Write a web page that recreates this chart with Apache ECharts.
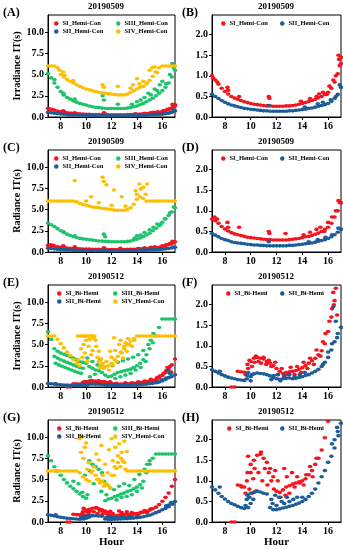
<!DOCTYPE html>
<html><head><meta charset="utf-8">
<script src="https://cdn.jsdelivr.net/npm/echarts@6/dist/echarts.min.js"></script>
<style>html,body{margin:0;padding:0;background:#fff}#c{width:343px;height:550px}</style>
</head><body><div id="c"></div>
<script>
// ---------- DATA ----------
const hours = [7,7.25,7.5,7.75,8,8.25,8.5,8.75,9,9.25,9.5,9.75,10,10.25,10.5,10.75,11,11.25,11.5,11.75,12,12.25,12.5,12.75,13,13.25,13.5,13.75,14,14.25,14.5,14.75,15,15.25,15.5,15.75,16,16.25,16.5,16.75,17];
const xTickValues = [8,10,12,14,16];

// 20190509 irradiance
const irr0509_SI = [1.0,0.9,0.8,0.7,0.62,0.56,0.5,0.46,0.43,0.4,0.37,0.35,0.33,0.31,0.3,0.29,0.28,0.27,0.27,0.26,0.26,0.26,0.26,0.27,0.27,0.28,0.29,0.31,0.33,0.35,0.38,0.4,0.43,0.47,0.5,0.55,0.6,0.7,0.85,1.05,1.3];
const irr0509_SI_exX = [7.1,7.4,8.2,8.25,9.1,11.4,11.45,13.9,14.6,15.1,15.3,15.6,15.9,16.1,16.4,16.6,16.8,16.85,16.9,17.0];
const irr0509_SI_exY = [0.95,0.85,0.72,0.65,0.5,0.5,0.45,0.38,0.45,0.5,0.56,0.6,0.55,0.75,0.9,1.0,1.5,1.4,1.25,1.45];
const irr0509_SII = [0.55,0.5,0.45,0.4,0.36,0.32,0.29,0.27,0.25,0.23,0.21,0.2,0.19,0.18,0.17,0.16,0.15,0.15,0.14,0.14,0.14,0.14,0.14,0.14,0.15,0.15,0.16,0.17,0.18,0.19,0.21,0.22,0.24,0.26,0.28,0.3,0.33,0.38,0.45,0.55,0.72];
const irr0509_SII_exX = [11.4,14.2,15.2,15.6,16.2,16.6,16.9];
const irr0509_SII_exY = [0.28,0.24,0.32,0.36,0.42,0.5,0.78];
const irr0509_SIII = [5.1,4.6,4.0,3.5,3.0,2.6,2.3,2.1,1.9,1.75,1.6,1.5,1.4,1.3,1.2,1.15,1.1,1.05,1.0,1.0,1.0,1.0,1.0,1.0,1.0,1.05,1.1,1.2,1.3,1.45,1.6,1.8,2.0,2.2,2.5,2.8,3.1,3.5,4.0,4.7,5.5];
const irr0509_SIII_exX = [7.5,8.2,9.1,11.3,11.4,12.5,13.6,14.0,14.3,14.6,14.9,15.1,15.4,15.6,15.8,16.0,16.3,16.6,16.8,16.9];
const irr0509_SIII_exY = [4.4,2.8,2.1,2.5,2.0,1.5,1.5,1.8,2.0,2.3,2.8,2.6,3.3,3.1,3.8,4.2,3.9,5.0,6.3,5.8];
const irr0509_SIV = [6.0,6.0,6.0,5.8,5.0,4.7,4.4,4.2,4.0,3.8,3.6,3.45,3.3,3.2,3.1,3.0,2.9,2.85,2.8,2.75,2.7,2.65,2.6,2.6,2.6,2.7,2.9,3.1,3.3,3.5,3.6,3.9,4.3,4.8,5.3,5.8,6.0,6.0,6.0,6.0,6.0];
const irr0509_SIV_exX = [7.9,8.2,8.3,9.0,11.3,11.4,12.5,13.5,13.7,14.0,14.2,14.5,14.8,15.0,15.2,15.4,15.6];
const irr0509_SIV_exY = [5.5,5.3,4.9,4.3,3.8,3.5,3.6,3.4,3.8,4.5,3.9,4.2,4.0,5.5,5.8,5.9,5.2];

// 20190509 radiance
const rad0509_SI = [0.8,0.76,0.7,0.62,0.56,0.51,0.47,0.44,0.42,0.4,0.38,0.36,0.35,0.34,0.33,0.32,0.31,0.3,0.3,0.29,0.29,0.29,0.29,0.29,0.3,0.31,0.32,0.33,0.35,0.37,0.38,0.4,0.43,0.46,0.5,0.55,0.6,0.7,0.85,1.0,1.2];
const rad0509_SI_exX = [7.2,7.4,8.2,8.25,9.1,11.4,11.45,12.7,14.1,14.6,15.1,15.4,15.7,16.0,16.3,16.6,16.8,16.9];
const rad0509_SI_exY = [0.85,0.8,0.72,0.6,0.6,0.5,0.45,0.45,0.42,0.48,0.55,0.6,0.5,0.72,0.85,1.0,1.25,1.2];
const rad0509_SII = [0.45,0.41,0.37,0.33,0.3,0.28,0.25,0.23,0.22,0.21,0.2,0.19,0.18,0.17,0.17,0.16,0.16,0.15,0.15,0.15,0.15,0.15,0.15,0.15,0.16,0.16,0.17,0.18,0.19,0.2,0.21,0.22,0.24,0.26,0.28,0.3,0.33,0.37,0.42,0.48,0.55];
const rad0509_SII_exX = [11.4,14.5,15.2,15.8,16.3,16.8];
const rad0509_SII_exY = [0.25,0.25,0.3,0.36,0.42,0.58];
const rad0509_SIII = [3.4,3.2,3.0,2.75,2.5,2.3,2.1,1.95,1.8,1.7,1.6,1.55,1.5,1.45,1.4,1.35,1.3,1.28,1.25,1.22,1.2,1.2,1.2,1.2,1.2,1.25,1.3,1.4,1.5,1.65,1.8,2.0,2.2,2.5,2.8,3.1,3.5,3.9,4.3,4.7,5.2];
const rad0509_SIII_exX = [8.2,9.1,11.4,11.5,13.8,14.0,14.3,14.6,15.0,15.3,15.6,15.9,16.2,16.6,16.9];
const rad0509_SIII_exY = [2.4,1.9,2.1,1.8,1.6,1.9,2.0,2.3,2.6,2.9,3.3,3.3,3.9,4.6,5.3];
const rad0509_SIV = [6,6,6,6,6,6,6,6,6.0,5.9,5.7,5.6,5.5,5.4,5.3,5.25,5.2,5.15,5.1,5.05,5.0,4.95,4.9,4.9,4.9,5.0,5.2,5.6,6.2,6.5,6.3,6.0,6,6,6,6,6,6,6,6,6];
const rad0509_SIV_exX = [9.1,10.4,11.3,11.4,11.6,12.2,12.8,13.9,14.0,14.2,14.3,14.5,14.7,14.8,10.0,11.0,12.0,13.1];
const rad0509_SIV_exY = [8.4,6.5,8.8,8.3,7.9,7.3,6.5,7.2,6.8,8.0,7.4,7.6,6.8,8.0,6.0,5.8,5.5,5.4];

// 20190512 irradiance
const irr0512_SI = [null,null,null,null,null,null,0.0,0.0,0.38,0.37,0.36,0.55,0.62,0.7,0.72,0.7,0.68,0.62,0.58,0.52,0.45,0.38,0.33,0.35,0.37,0.38,0.4,0.43,0.47,0.52,0.58,0.64,0.7,0.78,0.88,1.05,1.35,1.7,2.1,2.6,3.3];
const irr0512_SI_exX = [9.6,9.8,9.9,10.1,10.3,10.4,10.6,10.8,11.0,11.2,11.4,11.6,11.9,12.1,12.4,12.6,12.9,13.1,13.4,13.6,13.9,14.1,14.4,14.6,14.9,15.1,15.4,15.6,15.8,16.1,16.3,16.4,16.45,16.6,16.7];
const irr0512_SI_exY = [0.3,0.45,0.65,0.5,0.6,0.75,0.62,0.58,0.72,0.55,0.65,0.5,0.6,0.3,0.45,0.25,0.3,0.48,0.3,0.5,0.35,0.6,0.45,0.7,0.55,0.9,0.75,1.1,1.3,1.6,1.9,2.3,2.0,2.4,1.75];
const irr0512_SII = [0.42,0.38,0.34,0.3,0.27,0.24,0.22,0.2,0.18,0.17,0.16,0.28,0.25,0.32,0.34,0.33,0.32,0.3,0.27,0.23,0.2,0.19,0.2,0.21,0.22,0.2,0.21,0.23,0.25,0.28,0.3,0.34,0.38,0.43,0.5,0.6,0.72,0.9,1.1,1.3,1.45];
const irr0512_SII_exX = [7.6,9.7,9.8,10.0,10.1,11.6,11.8,12.1,12.3,12.6,13.0,13.4,13.8,14.2,15.6,16.0,16.3,16.4,16.6,16.7];
const irr0512_SII_exY = [0.38,0.2,0.35,0.15,0.3,0.18,0.28,0.3,0.15,0.28,0.3,0.25,0.3,0.35,0.55,0.85,1.05,1.95,1.6,1.2];
const irr0512_SIII = [6.5,5.6,4.5,4.2,4.0,3.85,3.7,3.55,3.4,3.2,3.0,2.9,2.8,2.4,2.2,2.0,1.9,1.7,1.4,1.2,1.3,1.5,1.7,1.8,1.9,2.0,2.1,2.3,2.5,2.8,3.2,3.8,4.5,5.2,6.0,7.0,8.0,8.0,8.0,8.0,8.0];
const irr0512_SIII_exX = [7.5,7.75,8,8.25,8.5,8.75,9,9.25,9.5,9.75,7.6,7.85,8.1,8.35,8.6,8.85,9.1,9.35,9.6,10.1,10.3,10.5,10.7,10.9,11.1,11.3,12.1,12.3,12.5,12.7,12.9,13.1,13.3,13.5,13.7,13.9,14.1,14.3,14.5,14.7,14.9,15.1,15.3];
const irr0512_SIII_exY = [3.6,3.4,3.2,3.05,2.9,2.75,2.6,2.45,2.3,2.2,2.8,2.6,2.45,2.3,2.15,2.0,1.85,1.7,1.6,3.4,1.2,3.0,1.5,2.6,3.2,2.4,2.5,1.0,2.9,1.2,3.1,1.4,3.3,1.6,3.5,2.0,3.8,2.3,4.3,3.0,5.0,5.5,6.3];
const irr0512_SIV = [6.0,6.0,6.0,5.6,5.1,4.6,4.1,3.7,3.2,2.8,2.5,6.0,6.0,6.0,6.0,5.5,3.0,2.6,2.4,2.5,2.8,3.2,3.6,4.1,4.5,5.0,5.4,5.7,6.0,6,6,6,6,6,6,6,6,6,6,6,6];
const irr0512_SIV_exX = [9.4,9.6,9.7,9.8,9.9,10.0,10.1,10.2,10.3,10.4,10.5,10.6,10.8,10.9,11.0,11.1,11.2,11.3,11.4,11.6,11.8,11.9,12.0,12.1,12.2,12.3,12.4,12.6,12.7,12.8,12.9,13.0,13.1,13.2,13.3,13.4,13.6,13.8,9.35,9.55,9.85,10.15,10.4,10.65];
const irr0512_SIV_exY = [3.2,4.5,3.5,5.0,4.0,5.5,3.0,4.8,5.6,3.8,4.3,5.8,4.8,3.5,4.2,2.3,3.3,2.8,2.2,3.0,2.0,4.2,3.5,2.6,5.8,4.3,3.0,5.0,5.5,4.0,3.4,4.8,5.2,4.2,5.7,5.0,4.8,5.5,6,6,6,6,6,6];

// 20190512 radiance
const rad0512_SI = [null,null,null,null,null,null,0.0,0.0,0.9,0.88,0.85,1.2,1.4,1.5,1.62,1.65,1.55,1.45,1.3,1.1,0.75,0.72,0.78,0.85,0.88,0.92,0.95,0.98,1.0,1.05,1.15,1.25,1.4,1.55,1.75,2.05,2.45,2.9,3.4,4.2,5.0];
const rad0512_SI_exX = [9.3,9.6,9.7,9.8,9.9,10.0,10.1,10.2,10.3,10.4,10.6,10.8,10.9,11.1,11.3,11.4,11.6,11.8,11.9,12.1,12.3,12.6,12.7,12.8,13.0,13.2,13.4,13.6,13.8,14.1,14.3,14.6,14.8,15.1];
const rad0512_SI_exY = [0.85,0.7,1.0,1.6,0.8,1.2,0.7,1.05,1.3,0.75,1.2,1.7,1.0,1.3,0.9,1.2,1.0,0.8,1.25,1.0,0.6,1.3,0.65,1.1,0.7,1.2,0.85,1.1,0.95,0.9,1.15,1.35,1.1,1.55];
const rad0512_SII = [0.85,0.78,0.7,0.62,0.56,0.5,0.45,0.42,0.38,0.35,0.33,0.65,0.7,0.72,0.75,0.73,0.7,0.68,0.35,0.3,0.3,0.32,0.34,0.36,0.38,0.4,0.43,0.46,0.5,0.55,0.62,0.7,0.8,0.95,1.1,1.25,1.45,1.6,1.8,2.2,2.4];
const rad0512_SII_exX = [7.6,9.6,9.7,9.8,9.9,10.0,10.2,11.6,11.7,11.9,12.0,12.2,12.4,12.6,12.8,13.0,13.3,13.6,14.0,16.3,16.5,16.7,16.8];
const rad0512_SII_exY = [0.85,0.4,0.55,0.35,0.6,0.45,0.55,0.55,0.45,0.65,0.4,0.6,0.5,0.45,0.6,0.5,0.55,0.6,0.6,1.9,2.0,2.3,2.1];
const rad0512_SIII = [7.8,7.2,6.5,6.0,5.5,5.0,4.6,4.2,3.9,3.6,3.3,3.0,2.8,7.2,6.8,6.5,6.2,5.8,2.5,2.7,2.8,3.0,3.1,3.3,3.4,3.6,3.7,3.9,4.1,4.4,4.8,5.8,6.8,7.5,8.0,8.0,8.0,8.0,8.0,8.0,8.0];
const rad0512_SIII_exX = [7.6,9.0,9.4,9.7,9.9,10.1,10.3,10.6,10.9,11.2,11.4,11.6,11.9,12.2,12.4,12.6,12.8,13.0,13.2,13.4,13.6,13.8,14.0,14.2,14.4,14.6,14.8,15.0];
const rad0512_SIII_exY = [6.0,4.8,4.5,3.5,5.5,3.2,6.0,4.5,5.0,3.6,4.8,3.2,4.0,3.8,2.6,4.2,2.9,4.5,3.0,4.3,3.2,5.0,3.6,5.6,4.0,6.2,6.8,7.2];
const rad0512_SIV = [6,6,6,6,6,6,6,6,6,6,5.8,5.3,5.0,4.8,6.0,5.5,5.0,4.8,4.5,4.3,5.5,6.5,7.0,7.5,7.0,6.0,6,6,6,6,6,6,6,6,6,6,6,6,6,6,6];
const rad0512_SIV_exX = [9.5,9.6,9.7,9.8,9.9,10.0,10.1,10.2,10.4,10.6,10.8,10.9,11.0,11.1,11.2,11.3,11.4,11.5,11.6,11.7,11.8,11.9,12.0,12.1,12.2,12.3,12.4,12.5,12.6,12.7,12.8,12.9,13.0,13.1,13.2];
const rad0512_SIV_exY = [9.8,8.2,10.0,7.5,8.8,9.3,6.2,7.0,5.8,6.5,8.0,5.0,7.3,4.6,9.0,5.5,4.2,6.8,4.5,5.8,8.5,4.0,9.8,7.2,5.5,8.8,6.3,7.8,9.2,6.5,8.2,7.2,9.5,6.2,8.3];

// ---------- STYLE / LAYOUT ----------
const FONT = '"Liberation Serif","Times New Roman",serif';
const COL = {SI:'#f5141e', SII:'#1c5d99', SIII:'#1dc46b', SIV:'#ffbf00'};

function pairs(xs, ys){ const out=[]; for(let i=0;i<xs.length;i++){ if(ys[i]!=null) out.push([xs[i], ys[i]]);} return out; }
function ser(name, c, main, exX, exY){ return {name, c, data: pairs(hours, main).concat(pairs(exX, exY))}; }

const L = {left:48, w:127}, R = {left:212, w:129};
const rowTop = [15,150,285,420], H = 102;

const panels = [
 {letter:'(A)', date:'20190509', side:L, row:0, ymax:12, yint:2.5, yname:'Irradiance IT(s)',
  series:[ser('SI_Hemi-Con','SI',irr0509_SI,irr0509_SI_exX,irr0509_SI_exY), ser('SII_Hemi-Con','SII',irr0509_SII,irr0509_SII_exX,irr0509_SII_exY), ser('SIII_Hemi-Con','SIII',irr0509_SIII,irr0509_SIII_exX,irr0509_SIII_exY), ser('SIV_Hemi-Con','SIV',irr0509_SIV,irr0509_SIV_exX,irr0509_SIV_exY)],
  legend:[['SI_Hemi-Con',54,0],['SIII_Hemi-Con',116,0],['SII_Hemi-Con',54,1],['SIV_Hemi-Con',116,1]]},
 {letter:'(B)', date:'20190509', side:R, row:0, ymax:2.48, yint:0.5,
  series:[ser('SI_Hemi-Con','SI',irr0509_SI,irr0509_SI_exX,irr0509_SI_exY), ser('SII_Hemi-Con','SII',irr0509_SII,irr0509_SII_exX,irr0509_SII_exY)],
  legend:[['SI_Hemi-Con',221,0],['SII_Hemi-Con',280,0]]},
 {letter:'(C)', date:'20190509', side:L, row:1, ymax:12, yint:2.5, yname:'Radiance IT(s)',
  series:[ser('SI_Hemi-Con','SI',rad0509_SI,rad0509_SI_exX,rad0509_SI_exY), ser('SII_Hemi-Con','SII',rad0509_SII,rad0509_SII_exX,rad0509_SII_exY), ser('SIII_Hemi-Con','SIII',rad0509_SIII,rad0509_SIII_exX,rad0509_SIII_exY), ser('SIV_Hemi-Con','SIV',rad0509_SIV,rad0509_SIV_exX,rad0509_SIV_exY)],
  legend:[['SI_Hemi-Con',54,0],['SIII_Hemi-Con',116,0],['SII_Hemi-Con',54,1],['SIV_Hemi-Con',116,1]]},
 {letter:'(D)', date:'20190509', side:R, row:1, ymax:2.48, yint:0.5,
  series:[ser('SI_Hemi-Con','SI',rad0509_SI,rad0509_SI_exX,rad0509_SI_exY), ser('SII_Hemi-Con','SII',rad0509_SII,rad0509_SII_exX,rad0509_SII_exY)],
  legend:[['SI_Hemi-Con',221,0],['SII_Hemi-Con',280,0]]},
 {letter:'(E)', date:'20190512', side:L, row:2, ymax:12, yint:2.5, yname:'Irradiance IT(s)',
  series:[ser('SI_Bi-Hemi','SI',irr0512_SI,irr0512_SI_exX,irr0512_SI_exY), ser('SII_Bi-Hemi','SII',irr0512_SII,irr0512_SII_exX,irr0512_SII_exY), ser('SIII_Bi-Hemi','SIII',irr0512_SIII,irr0512_SIII_exX,irr0512_SIII_exY), ser('SIV_Hemi-Con','SIV',irr0512_SIV,irr0512_SIV_exX,irr0512_SIV_exY)],
  legend:[['SI_Bi-Hemi',57,0],['SIII_Bi-Hemi',113,0],['SII_Bi-Hemi',57,1],['SIV_Hemi-Con',113,1]]},
 {letter:'(F)', date:'20190512', side:R, row:2, ymax:2.48, yint:0.5,
  series:[ser('SI_Bi-Hemi','SI',irr0512_SI,irr0512_SI_exX,irr0512_SI_exY), ser('SII_Bi-Hemi','SII',irr0512_SII,irr0512_SII_exX,irr0512_SII_exY)],
  legend:[['SI_Bi-Hemi',226,0],['SII_Bi-Hemi',280,0]]},
 {letter:'(G)', date:'20190512', side:L, row:3, ymax:12, yint:2.5, yname:'Radiance IT(s)', xname:'Hour',
  series:[ser('SI_Bi-Hemi','SI',rad0512_SI,rad0512_SI_exX,rad0512_SI_exY), ser('SII_Bi-Hemi','SII',rad0512_SII,rad0512_SII_exX,rad0512_SII_exY), ser('SIII_Bi-Hemi','SIII',rad0512_SIII,rad0512_SIII_exX,rad0512_SIII_exY), ser('SIV_Hemi-Con','SIV',rad0512_SIV,rad0512_SIV_exX,rad0512_SIV_exY)],
  legend:[['SI_Bi-Hemi',57,0],['SIII_Bi-Hemi',113,0],['SII_Bi-Hemi',57,1],['SIV_Hemi-Con',113,1]]},
 {letter:'(H)', date:'20190512', side:R, row:3, ymax:2.48, yint:0.5, xname:'Hour',
  series:[ser('SI_Bi-Hemi','SI',rad0512_SI,rad0512_SI_exX,rad0512_SI_exY), ser('SII_Bi-Hemi','SII',rad0512_SII,rad0512_SII_exX,rad0512_SII_exY)],
  legend:[['SI_Bi-Hemi',227,0],['SII_Bi-Hemi',280,0]]}
];

const grids=[], xAxes=[], yAxes=[], series=[], legends=[], graphics=[];
const lblStyle = {fontFamily:FONT, fontWeight:'bold', fontSize:10, color:'#000'};

panels.forEach((p, i)=>{
  const top = rowTop[p.row];
  grids.push({left:p.side.left, top:top, width:p.side.w, height:H, show:true, borderColor:'#000', borderWidth:1, backgroundColor:'transparent'});
  xAxes.push({gridIndex:i, type:'value', min:7, max:17,
    axisLine:{show:true, onZero:false, lineStyle:{color:'#000', width:1}},
    axisTick:{show:true, length:3, customValues:xTickValues, lineStyle:{color:'#000'}},
    axisLabel:Object.assign({customValues:xTickValues, margin:4}, lblStyle),
    splitLine:{show:false},
    name:p.xname||'', nameLocation:'middle', nameGap:14,
    nameTextStyle:{fontFamily:FONT, fontWeight:'bold', fontSize:11, color:'#000'}});
  yAxes.push({gridIndex:i, type:'value', min:0, max:p.ymax, interval:p.yint,
    axisLine:{show:true, onZero:false, lineStyle:{color:'#000', width:1}},
    axisTick:{show:true, length:3, lineStyle:{color:'#000'}},
    axisLabel:Object.assign({margin:4, showMaxLabel:false, formatter:v=>v.toFixed(1)}, lblStyle),
    splitLine:{show:false},
    name:p.yname||'', nameLocation:'middle', nameGap:23, nameRotate:90,
    nameTextStyle:{fontFamily:FONT, fontWeight:'bold', fontSize:10, color:'#000'}});
  p.series.forEach(s=>{
    series.push({type:'scatter', name:s.name, xAxisIndex:i, yAxisIndex:i, data:s.data,
      symbol:'circle', symbolSize:[4.6,3.6], itemStyle:{color:COL[s.c], opacity:1},
      clip:true, silent:true, emphasis:{disabled:true}});
  });
  p.legend.forEach(([name, x, r])=>{
    legends.push({data:[name], left:x, top:top + 5 + r*8, padding:0, itemWidth:4.5, itemHeight:4.5,
      icon:'circle', selectedMode:false, itemGap:0,
      textStyle:{fontFamily:FONT, fontWeight:'bold', fontSize:6.5, color:'#000', padding:[0,0,0,-1]}});
  });
  const cx = p.side === L ? 106 : 276;
  graphics.push({type:'text', x:cx, y:top-8, style:{text:p.date, font:'bold 9px '+FONT, fill:'#000', align:'center', verticalAlign:'middle', textAlign:'center', textVerticalAlign:'middle'}});
  const lx = p.side === L ? 3 : 182;
  graphics.push({type:'text', x:lx, y:top-2, style:{text:p.letter, font:'bold 12px '+FONT, fill:'#000', align:'left', verticalAlign:'middle', textAlign:'left', textVerticalAlign:'middle'}});
});

const chart = echarts.init(document.getElementById('c'), null, {renderer:'canvas'});
chart.setOption({
  animation:false, backgroundColor:'#fff', color:Object.values(COL),
  grid:grids, xAxis:xAxes, yAxis:yAxes, series:series, legend:legends, graphic:graphics
});
</script></body></html>
